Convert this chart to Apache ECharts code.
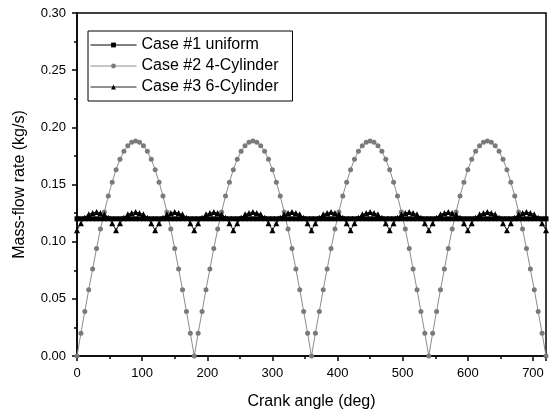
<!DOCTYPE html>
<html>
<head>
<meta charset="utf-8">
<script src="https://cdn.jsdelivr.net/npm/echarts@6/dist/echarts.min.js"></script>
<style>
  html, body { margin: 0; padding: 0; background: #fff; }
  #chartDiv { width: 552px; height: 415px; }
</style>
</head>
<body>
<div id="chartDiv"></div>
<script>
// crank angle (deg), 6 deg step
var angles = [
  0, 6, 12, 18, 24, 30, 36, 42, 48, 54, 60, 66, 72, 78, 84, 90, 96, 102, 108, 114,
  120, 126, 132, 138, 144, 150, 156, 162, 168, 174, 180, 186, 192, 198, 204, 210, 216, 222, 228, 234,
  240, 246, 252, 258, 264, 270, 276, 282, 288, 294, 300, 306, 312, 318, 324, 330, 336, 342, 348, 354,
  360, 366, 372, 378, 384, 390, 396, 402, 408, 414, 420, 426, 432, 438, 444, 450, 456, 462, 468, 474,
  480, 486, 492, 498, 504, 510, 516, 522, 528, 534, 540, 546, 552, 558, 564, 570, 576, 582, 588, 594,
  600, 606, 612, 618, 624, 630, 636, 642, 648, 654, 660, 666, 672, 678, 684, 690, 696, 702, 708, 714,
  720
];

// Case #1 uniform
var case1 = [
  0.12, 0.12, 0.12, 0.12, 0.12, 0.12, 0.12, 0.12, 0.12, 0.12, 0.12, 0.12, 0.12, 0.12, 0.12, 0.12, 0.12, 0.12, 0.12, 0.12,
  0.12, 0.12, 0.12, 0.12, 0.12, 0.12, 0.12, 0.12, 0.12, 0.12, 0.12, 0.12, 0.12, 0.12, 0.12, 0.12, 0.12, 0.12, 0.12, 0.12,
  0.12, 0.12, 0.12, 0.12, 0.12, 0.12, 0.12, 0.12, 0.12, 0.12, 0.12, 0.12, 0.12, 0.12, 0.12, 0.12, 0.12, 0.12, 0.12, 0.12,
  0.12, 0.12, 0.12, 0.12, 0.12, 0.12, 0.12, 0.12, 0.12, 0.12, 0.12, 0.12, 0.12, 0.12, 0.12, 0.12, 0.12, 0.12, 0.12, 0.12,
  0.12, 0.12, 0.12, 0.12, 0.12, 0.12, 0.12, 0.12, 0.12, 0.12, 0.12, 0.12, 0.12, 0.12, 0.12, 0.12, 0.12, 0.12, 0.12, 0.12,
  0.12, 0.12, 0.12, 0.12, 0.12, 0.12, 0.12, 0.12, 0.12, 0.12, 0.12, 0.12, 0.12, 0.12, 0.12, 0.12, 0.12, 0.12, 0.12, 0.12,
  0.12
];

// Case #2 4-Cylinder
var case2 = [
  0, 0.020, 0.039, 0.058, 0.076, 0.094, 0.111, 0.126, 0.140, 0.152, 0.163, 0.172, 0.179, 0.184, 0.187, 0.188, 0.187, 0.184, 0.179, 0.172, 0.163, 0.152, 0.140, 0.126, 0.111, 0.094, 0.076, 0.058, 0.039, 0.020,
  0, 0.020, 0.039, 0.058, 0.076, 0.094, 0.111, 0.126, 0.140, 0.152, 0.163, 0.172, 0.179, 0.184, 0.187, 0.188, 0.187, 0.184, 0.179, 0.172, 0.163, 0.152, 0.140, 0.126, 0.111, 0.094, 0.076, 0.058, 0.039, 0.020,
  0, 0.020, 0.039, 0.058, 0.076, 0.094, 0.111, 0.126, 0.140, 0.152, 0.163, 0.172, 0.179, 0.184, 0.187, 0.188, 0.187, 0.184, 0.179, 0.172, 0.163, 0.152, 0.140, 0.126, 0.111, 0.094, 0.076, 0.058, 0.039, 0.020,
  0, 0.020, 0.039, 0.058, 0.076, 0.094, 0.111, 0.126, 0.140, 0.152, 0.163, 0.172, 0.179, 0.184, 0.187, 0.188, 0.187, 0.184, 0.179, 0.172, 0.163, 0.152, 0.140, 0.126, 0.111, 0.094, 0.076, 0.058, 0.039, 0.020,
  0
];

// Case #3 6-Cylinder
var case3 = [
  0.110, 0.116, 0.121, 0.124, 0.125, 0.126, 0.125, 0.124, 0.121, 0.116, 0.110, 0.116, 0.121, 0.124, 0.125, 0.126, 0.125, 0.124, 0.121, 0.116,
  0.110, 0.116, 0.121, 0.124, 0.125, 0.126, 0.125, 0.124, 0.121, 0.116, 0.110, 0.116, 0.121, 0.124, 0.125, 0.126, 0.125, 0.124, 0.121, 0.116,
  0.110, 0.116, 0.121, 0.124, 0.125, 0.126, 0.125, 0.124, 0.121, 0.116, 0.110, 0.116, 0.121, 0.124, 0.125, 0.126, 0.125, 0.124, 0.121, 0.116,
  0.110, 0.116, 0.121, 0.124, 0.125, 0.126, 0.125, 0.124, 0.121, 0.116, 0.110, 0.116, 0.121, 0.124, 0.125, 0.126, 0.125, 0.124, 0.121, 0.116,
  0.110, 0.116, 0.121, 0.124, 0.125, 0.126, 0.125, 0.124, 0.121, 0.116, 0.110, 0.116, 0.121, 0.124, 0.125, 0.126, 0.125, 0.124, 0.121, 0.116,
  0.110, 0.116, 0.121, 0.124, 0.125, 0.126, 0.125, 0.124, 0.121, 0.116, 0.110, 0.116, 0.121, 0.124, 0.125, 0.126, 0.125, 0.124, 0.121, 0.116,
  0.110
];

var seriesNames = ['Case #1 uniform', 'Case #2 4-Cylinder', 'Case #3 6-Cylinder'];

function pairs(ys) {
  var out = [];
  for (var i = 0; i < angles.length; i++) out.push([angles[i], ys[i]]);
  return out;
}

var fontName = '"Liberation Sans", Arial, sans-serif';
var myChart = echarts.init(document.getElementById('chartDiv'));

var option = {
  animation: false,
  backgroundColor: '#fff',
  textStyle: { fontFamily: fontName, color: '#000' },
  grid: {
    left: 77, right: 6, top: 13, bottom: 56,
    show: true, borderColor: '#000', borderWidth: 1.5
  },
  legend: {
    left: 88, top: 31,
    orient: 'vertical',
    backgroundColor: '#fff',
    borderColor: '#000', borderWidth: 1,
    padding: [6, 14, 6, 2],
    itemGap: 5,
    itemWidth: 46, itemHeight: 6,
    lineStyle: { width: 1 },
    textStyle: { fontFamily: fontName, fontSize: 16, color: '#000' },
    data: seriesNames
  },
  xAxis: {
    type: 'value',
    min: 0, max: 720, interval: 100,
    name: 'Crank angle (deg)',
    nameLocation: 'middle', nameGap: 38,
    nameTextStyle: { fontSize: 16, color: '#000' },
    axisLine: { onZero: false, lineStyle: { color: '#000', width: 1.5 } },
    axisTick: { inside: false, length: 5, lineStyle: { color: '#000', width: 1.5 } },
    minorTick: { show: true, splitNumber: 2, length: 3, lineStyle: { color: '#000', width: 1.5 } },
    axisLabel: { fontSize: 13, color: '#000', margin: 11, showMaxLabel: false },
    splitLine: { show: false }
  },
  yAxis: {
    type: 'value',
    min: 0, max: 0.3, interval: 0.05,
    name: 'Mass-flow rate (kg/s)',
    nameLocation: 'middle', nameGap: 49,
    nameTextStyle: { fontSize: 16, color: '#000' },
    axisLine: { onZero: false, lineStyle: { color: '#000', width: 1.5 } },
    axisTick: { inside: false, length: 5, lineStyle: { color: '#000', width: 1.5 } },
    minorTick: { show: true, splitNumber: 2, length: 3, lineStyle: { color: '#000', width: 1.5 } },
    axisLabel: { fontSize: 13, color: '#000', margin: 11, formatter: function (v) { return v.toFixed(2); } },
    splitLine: { show: false }
  },
  series: [
    {
      name: seriesNames[0], type: 'line',
      data: pairs(case1),
      symbol: 'rect', symbolSize: 5, showSymbol: true,
      itemStyle: { color: '#000' },
      lineStyle: { color: '#000', width: 1 }
    },
    {
      name: seriesNames[1], type: 'line',
      data: pairs(case2),
      symbol: 'circle', symbolSize: 5, showSymbol: true,
      itemStyle: { color: '#7a7a7a' },
      lineStyle: { color: '#8c8c8c', width: 1 }
    },
    {
      name: seriesNames[2], type: 'line',
      data: pairs(case3),
      symbol: 'triangle', symbolSize: 6, showSymbol: true,
      itemStyle: { color: '#000' },
      lineStyle: { color: '#222', width: 1 }
    }
  ]
};

myChart.setOption(option);
</script>
</body>
</html>
